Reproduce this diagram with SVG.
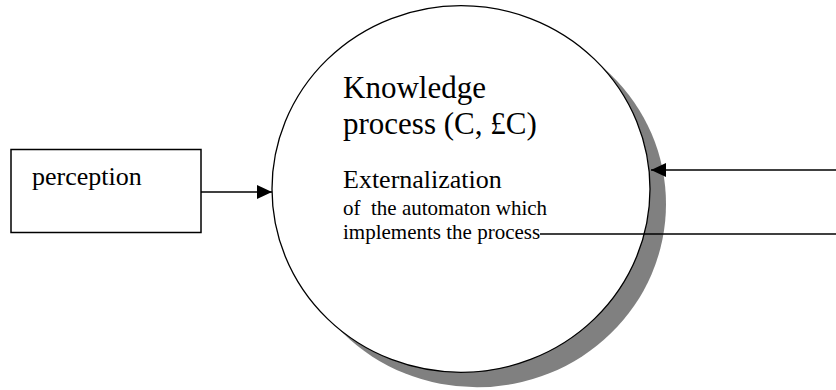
<svg xmlns="http://www.w3.org/2000/svg" width="836" height="390" viewBox="0 0 836 390">
<style>
text{font-family:'Liberation Serif','Times New Roman','DejaVu Serif',serif;fill:#000}
.ln{stroke:#000;stroke-width:1.3;fill:none}
</style>
<defs>
<marker id="ah" markerWidth="15" markerHeight="14" refX="15" refY="7" orient="auto" markerUnits="userSpaceOnUse">
<path d="M0,0 L15,7 L0,14 Z" fill="#000"/>
</marker>
</defs>
<rect width="836" height="390" fill="#fff"/>
<g id="perception">
<rect x="11" y="149.5" width="190" height="83" fill="#fff" stroke="#000" stroke-width="1.5"/>
<text x="32" y="185" font-size="26" font-family="Liberation Serif, serif">perception</text>
</g>
<g id="knowledge-process">
<ellipse cx="477" cy="204" rx="189" ry="183.3" fill="#808080"/>
<ellipse cx="461" cy="189" rx="189" ry="183.3" fill="#fff" stroke="#000" stroke-width="1.3"/>
<text x="343" y="98" font-size="31" font-family="Liberation Serif, serif">Knowledge</text>
<text x="343" y="134" font-size="31" font-family="Liberation Serif, serif">process (C, £C)</text>
<text x="343" y="188" font-size="26" font-family="Liberation Serif, serif">Externalization</text>
<text x="343" y="215" font-size="21" font-family="Liberation Serif, serif" xml:space="preserve">of  the automaton which</text>
<text x="343" y="239" font-size="21" font-family="Liberation Serif, serif">implements the process</text>
</g>
<g id="connectors">
<line class="ln" x1="201" y1="192" x2="272" y2="192" marker-end="url(#ah)"/>
<line class="ln" x1="836" y1="170" x2="651" y2="170" marker-end="url(#ah)"/>
<line class="ln" x1="540" y1="234" x2="836" y2="234"/>
</g>
</svg>
